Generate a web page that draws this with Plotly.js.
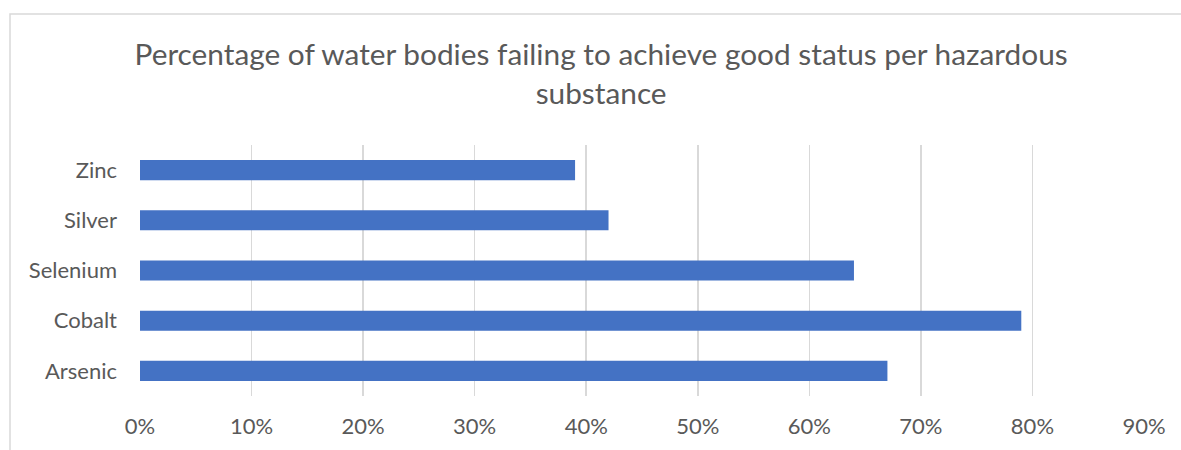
<!DOCTYPE html>
<html>
<head>
<meta charset="utf-8">
<script src="https://cdn.plot.ly/plotly-3.0.1.min.js"></script>
<style>html,body{margin:0;padding:0;background:#fff;}#chart{width:1181px;height:450px;}</style>
</head>
<body>
<div id="chart"></div>
<script>
var substances = ["Arsenic", "Cobalt", "Selenium", "Silver", "Zinc"];
var failingShare = [0.67, 0.79, 0.64, 0.42, 0.39];
var xTickValues = [0, 0.1, 0.2, 0.3, 0.4, 0.5, 0.6, 0.7, 0.8, 0.9];

var textColor = "#595959";
var fontFamily = "Lato, 'Open Sans', sans-serif";

var data = [{
  type: "bar",
  orientation: "h",
  y: substances,
  x: failingShare,
  marker: {color: "#4472C4"},
  hoverinfo: "none"
}];

var layout = {
  width: 1181,
  height: 450,
  margin: {l: 140, r: 37, t: 145, b: 54},
  paper_bgcolor: "#ffffff",
  plot_bgcolor: "#ffffff",
  bargap: 0.6,
  showlegend: false,
  title: {
    text: "Percentage of water bodies failing to achieve good status per hazardous<br>substance",
    font: {family: fontFamily, size: 29.8, color: textColor},
    x: 0.509,
    xanchor: "center",
    xref: "container",
    y: 1 - 65 / 450,
    yanchor: "top",
    yref: "container"
  },
  xaxis: {
    range: [0, 0.9],
    tickvals: xTickValues,
    tickformat: ".0%",
    showgrid: true,
    gridcolor: "#d9d9d9",
    gridwidth: 1.5,
    zeroline: false,
    showline: false,
    ticks: "",
    ticklabelstandoff: 15,
    tickfont: {family: fontFamily, size: 22, color: textColor},
    fixedrange: true
  },
  yaxis: {
    type: "category",
    showgrid: false,
    zeroline: false,
    showline: false,
    ticks: "",
    ticklabelstandoff: 22,
    tickfont: {family: fontFamily, size: 22, color: textColor},
    fixedrange: true
  },
  shapes: [{
    type: "rect",
    xref: "paper",
    yref: "paper",
    x0: (10 - 140) / 1004,
    x1: 1.2,
    y0: -0.5,
    y1: (396 - 14) / 251,
    line: {color: "#d9d9d9", width: 1.5},
    fillcolor: "rgba(0,0,0,0)",
    layer: "below"
  }]
};

Plotly.newPlot("chart", data, layout, {displayModeBar: false, staticPlot: true});
</script>
</body>
</html>
